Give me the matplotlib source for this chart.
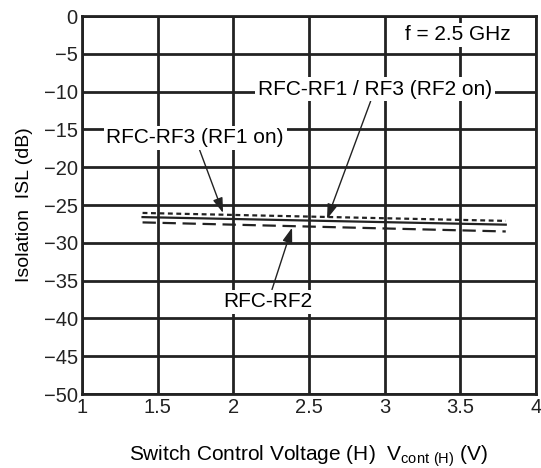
import matplotlib
matplotlib.use("Agg")
import matplotlib.pyplot as plt

plt.rcParams['font.family'] = ['Liberation Sans', 'DejaVu Sans']

v = [1.4, 3.8]
rf3_rf1on = [-26.05, -27.1]
rf1_rf3_rf2on = [-26.6, -27.6]
rf2 = [-27.3, -28.5]

xticks = [1, 1.5, 2, 2.5, 3, 3.5, 4]
xticklabels = ['1', '1.5', '2', '2.5', '3', '3.5', '4']
yticks = [0, -5, -10, -15, -20, -25, -30, -35, -40, -45, -50]
yticklabels = ['0', '\u22125', '\u221210', '\u221215', '\u221220', '\u221225',
               '\u221230', '\u221235', '\u221240', '\u221245', '\u221250']

fs = 14.5
fig = plt.figure(figsize=(5.41, 4.68), dpi=100)
ax = fig.add_axes([0.1516, 0.1581, 0.8392, 0.8077])
ax.set_xlim(1, 4)
ax.set_ylim(-50, 0)
ax.set_xticks(xticks)
ax.set_xticklabels(xticklabels, fontsize=fs)
ax.set_yticks(yticks)
ax.set_yticklabels(yticklabels, fontsize=fs)
ax.tick_params(length=0, pad=3, colors='#222222')
ax.grid(True, color='#222222', linewidth=2)
for s in ax.spines.values():
    s.set_linewidth(2)
    s.set_color('#222222')
ax.set_axisbelow(True)

ax.plot(v, rf3_rf1on, color='#222222', lw=1.6, linestyle=(0, (2.2, 1.6)))
ax.plot(v, rf1_rf3_rf2on, color='#222222', lw=1.6, linestyle='-')
ax.plot(v, rf2, color='#222222', lw=1.6, linestyle=(0, (6, 3)))

bbox = dict(facecolor='white', edgecolor='none', pad=2)
ap = dict(arrowstyle='-|>,head_length=0.6,head_width=0.2', color='#222222', lw=1,
          shrinkA=0, shrinkB=0)
afs = 15
ax.annotate('RFC-RF3 (RF1 on)', xy=(1.932, -26.05), xytext=(1.747, -16.1),
            fontsize=afs, ha='center', va='center', bbox=bbox, arrowprops=ap)
ax.annotate('RFC-RF1 / RF3 (RF2 on)', xy=(2.619, -26.85), xytext=(2.937, -9.66),
            fontsize=afs, ha='center', va='center', bbox=bbox, arrowprops=ap)
ax.annotate('RFC-RF2', xy=(2.388, -28.0), xytext=(2.229, -37.8),
            fontsize=afs, ha='center', va='center', bbox=bbox, arrowprops=ap)
ax.text(3.48, -2.5, 'f = 2.5 GHz', fontsize=afs, ha='center', va='center', bbox=bbox)

ax.set_ylabel('Isolation  ISL (dB)', fontsize=14, labelpad=8)
ax.set_xlabel('Switch Control Voltage (H)  V$_{\\mathregular{cont\\ (H)}}$ (V)',
              fontsize=15, labelpad=19)

fig.savefig('out.png', dpi=100)
